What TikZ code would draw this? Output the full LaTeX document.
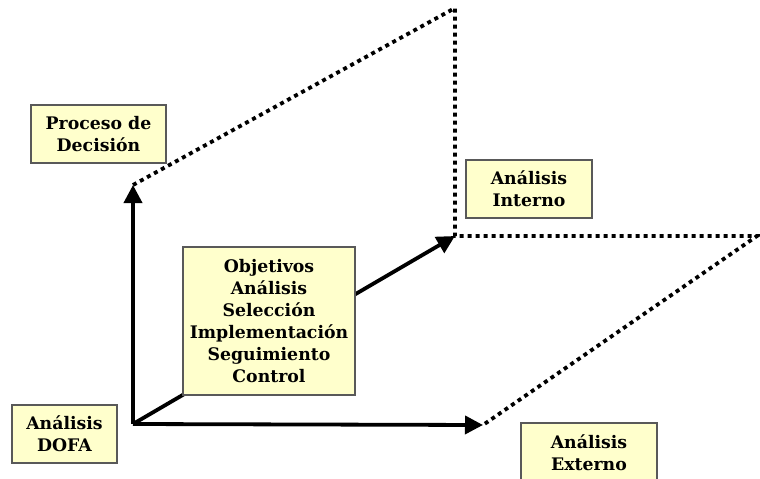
\documentclass[tikz,border=0pt]{standalone}
\usepackage{fontspec}
\setmainfont{DejaVu Serif}
\usetikzlibrary{arrows.meta}
\definecolor{cajaamarilla}{RGB}{255,255,204}

\begin{document}
\begin{tikzpicture}[x=1pt,y=-1pt,line width=3.8pt]
        \tikzset{caja/.style={draw=black!65, line width=1.2pt, fill=cajaamarilla, align=center,
                 font=\fontsize{17.3}{22}\selectfont\bfseries, inner sep=0pt},
                 punteado/.style={dash pattern=on 4pt off 4pt},
                 flecha/.style={-{Triangle[length=18pt,width=18pt]}}}
        \useasboundingbox[fill=white] (0,0) rectangle (760,479);
        \coordinate (O) at (133,424);
        \coordinate (pd) at (133,185);
        \coordinate (T) at (455,8);
        \coordinate (ai) at (455,236);
        \coordinate (R) at (757,236);
        \coordinate (ex) at (483,425);
        % ejes
        \draw[flecha] (O)--(pd);
        \draw[flecha] (O)--(ai);
        \draw[flecha] (O)--(ex);
        \draw[punteado] (pd)--(T)--(ai)--(R)--(ex);
        % cajas
        \node[caja, minimum width=135pt, minimum height=58pt] (decision) at (98.5,134) {Proceso de\\Decisión};
        \node[caja, minimum width=126pt, minimum height=58pt] (interno) at (529,189) {Análisis\\Interno};
        \node[caja, minimum width=172pt, minimum height=148pt] (pasos) at (269,321)
             {Objetivos\\Análisis\\Selección\\Implementación\\Seguimiento\\Control};
        \node[caja, minimum width=105pt, minimum height=58pt] (dofa) at (64.5,434) {Análisis\\DOFA};
        \node[caja, minimum width=136pt, minimum height=60pt] (externo) at (589,453) {Análisis\\Externo};
\end{tikzpicture}
\end{document}
